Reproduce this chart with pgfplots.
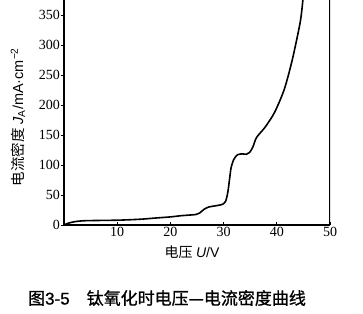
\documentclass[border=0pt]{standalone}
\usepackage{pgfplots}
\pgfplotsset{compat=1.18}
\usepackage{fontspec}
\setmainfont{Liberation Serif}
\newfontfamily\cjk{Noto Sans CJK SC}
\newfontfamily\cjkb[FakeBold=1]{Noto Sans CJK SC}
\newfontfamily\lsans{Liberation Sans}
\newfontfamily\lsansb[FakeBold=1]{Liberation Sans}
\begin{document}
\begin{tikzpicture}
\begin{axis}[
  at={(0pt,0pt)}, anchor=south west,
  scale only axis, width=266pt, height=225pt,
  xmin=0, xmax=50, ymin=0, ymax=375,
  axis x line=bottom, axis y line=left,
  axis line style={-, line width=1.2pt},
  xtick={10,20,30,40,50},
  ytick={0,50,100,150,200,250,300,350},
  tick align=inside,
  major tick length=3.5pt,
  tick style={black, line width=0.8pt},
  ytick style={xshift=-3.5pt},
  /pgf/number format/assume math mode=true,
  ticklabel style={font=\fontsize{14}{14}\selectfont},
  xticklabel style={yshift=1pt},
  yticklabel style={xshift=-0.5pt},
]
\addplot[black, line width=1.6pt, smooth, tension=0.45] coordinates {
(0,0) (0.8,3) (2,5.5) (3.5,7) (6,7.5) (10,8) (13,9) (15,10) (17,11.5)
(20,13.5) (22,15.5) (23.5,16.5) (24.8,17.5) (25.5,20) (26.3,26) (27.2,30)
(28.5,32) (29.8,34.5) (30.4,40) (30.8,55) (31.1,75) (31.4,95) (31.9,109)
(32.6,117) (33.5,118.5) (34.3,118) (34.9,121) (35.5,130) (36.2,146)
(37.8,163) (39.6,188) (41.4,226) (42.9,275) (44.4,338) (44.9,375)
};
\draw[line width=1.2pt] (rel axis cs:1,0) -- (rel axis cs:1,1);
\end{axis}
\node[rotate=90, font=\fontsize{14.5}{15}\selectfont] at (-46pt,108pt)
  {{\cjk 电流密度} \lsans\textit{J}\textsubscript{A}/mA·cm\textsuperscript{−2}};
\node[font=\fontsize{14}{15}\selectfont] at (128pt,-27pt)
  {{\cjk 电压} \lsans\textit{U}/V};
\node[font=\fontsize{17}{18}\selectfont] at (103pt,-73pt)
  {{\cjkb 图}\lsansb 3-5\quad{\cjkb 钛氧化时电压—电流密度曲线}};
\pgfresetboundingbox
\path[use as bounding box] (-64pt,-88pt) rectangle (299pt,225pt);
\end{tikzpicture}
\end{document}
